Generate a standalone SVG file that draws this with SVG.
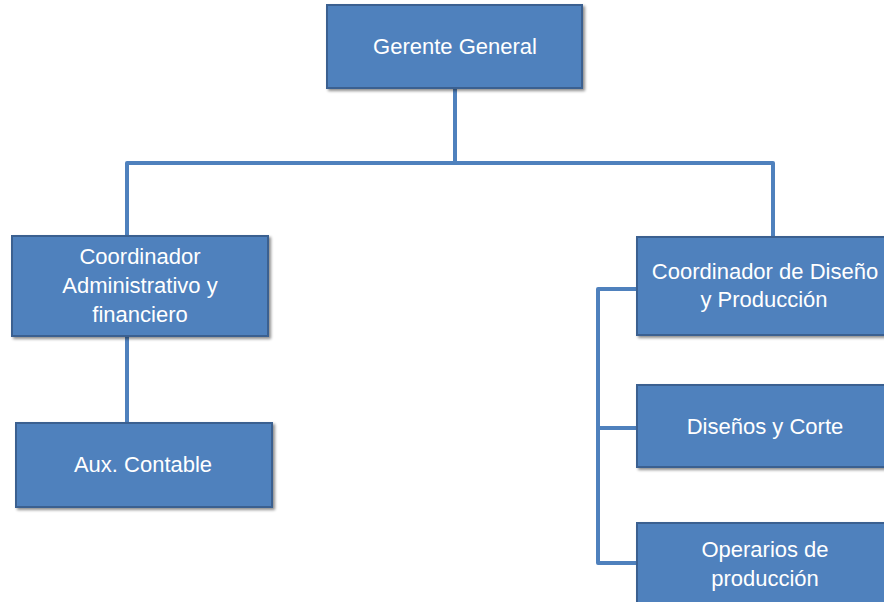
<svg xmlns="http://www.w3.org/2000/svg" width="884" height="602" viewBox="0 0 884 602">
<defs>
<filter id="sh" x="-10%" y="-10%" width="130%" height="140%">
<feGaussianBlur in="SourceAlpha" stdDeviation="1.5"/>
<feOffset dx="1.5" dy="2" result="b"/>
<feComponentTransfer><feFuncA type="linear" slope="0.45"/></feComponentTransfer>
<feMerge><feMergeNode/><feMergeNode in="SourceGraphic"/></feMerge>
</filter>
<style>
.box{fill:#4F81BD;stroke:#3A6190;stroke-width:2;filter:url(#sh)}
.t{fill:#FFFFFF;font-family:"Liberation Sans",Arial,sans-serif;font-size:22px;text-anchor:middle}
.c{fill:none;stroke:#4F81BD;stroke-width:4;stroke-linejoin:round}
</style>
</defs>
<rect width="884" height="602" fill="#FFFFFF"/>
<g id="connectors">
<path class="c" d="M455 88 V163 M127 236 V163 H773 V237"/>
<path class="c" d="M127 336 V423"/>
<path class="c" d="M637 289 H598 V563 H637 M598 428 H637"/>
</g>
<g id="gerente">
<rect class="box" x="327" y="5" width="255" height="83"/>
<text class="t" x="455" y="54">Gerente General</text>
</g>
<g id="coord-admin">
<rect class="box" x="12" y="236" width="256" height="100"/>
<text class="t" x="140" y="264">Coordinador</text>
<text class="t" x="140" y="293">Administrativo y</text>
<text class="t" x="140" y="322">financiero</text>
</g>
<g id="aux-contable">
<rect class="box" x="16" y="423" width="256" height="84"/>
<text class="t" x="143" y="472">Aux. Contable</text>
</g>
<g id="coord-diseno">
<rect class="box" x="637" y="237" width="256" height="98"/>
<text class="t" x="765" y="279">Coordinador de Diseño</text>
<text class="t" x="764" y="307">y Producción</text>
</g>
<g id="disenos-corte">
<rect class="box" x="637" y="385" width="256" height="82"/>
<text class="t" x="765" y="434">Diseños y Corte</text>
</g>
<g id="operarios">
<rect class="box" x="637" y="523" width="256" height="90"/>
<text class="t" x="765" y="557">Operarios de</text>
<text class="t" x="765" y="586">producción</text>
</g>
</svg>
